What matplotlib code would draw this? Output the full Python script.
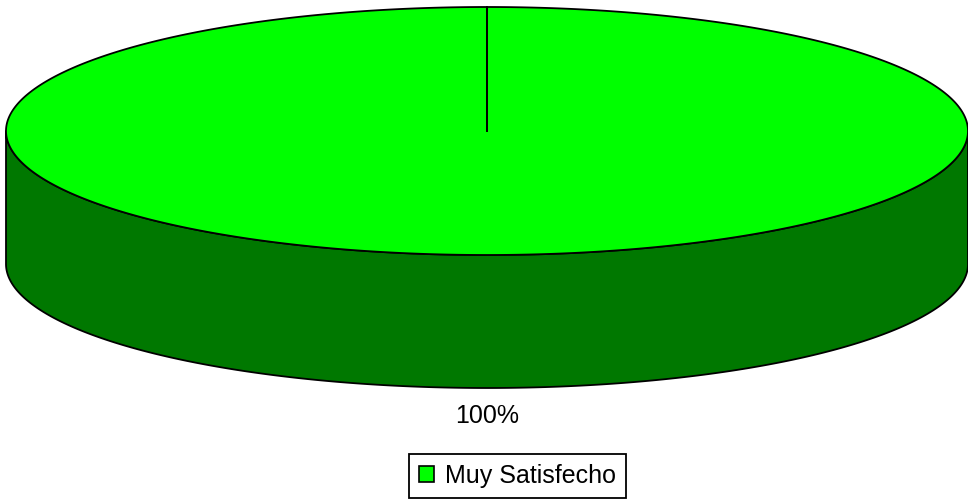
import numpy as np
import matplotlib
matplotlib.use("Agg")
import matplotlib.pyplot as plt
from matplotlib.patches import Polygon, Patch

# ---- data ----
categories = ["Muy Satisfecho"]
values = [100]
labels = ["100%"]

# ---- style / layout ----
top_colors = ["#00FF00"]
side_colors = ["#007800"]
W, H = 968, 500
cx, cy = 487, 131      # centre of top ellipse (pixels)
a, b = 481, 124        # semi axes
depth = 133            # pie thickness (pixels)

plt.rcParams["font.family"] = ["Liberation Sans", "DejaVu Sans"]
fig = plt.figure(figsize=(W / 100, H / 100), dpi=100)
ax = fig.add_axes([0, 0, 1, 1])
ax.set_xlim(0, W)
ax.set_ylim(H, 0)
ax.axis("off")

total = float(sum(values))
# Excel: first slice starts at 12 o'clock, goes clockwise
start = 90.0
lw = 1.3


def pt(theta_deg, dy=0.0):
    t = np.radians(theta_deg)
    return cx + a * np.cos(t), cy - b * np.sin(t) + dy


bounds = []
ang = start
for v in values:
    sweep = 360.0 * v / total
    bounds.append((ang, ang - sweep))
    ang -= sweep

# side walls (front half: angles between 180 and 360, i.e. sin<0)
for (t0, t1), sc in zip(bounds, side_colors):
    lo, hi = min(t0, t1), max(t0, t1)
    segs = []
    for k in range(-2, 3):
        s0, s1 = 180 + 360 * k, 360 + 360 * k
        l, h = max(lo, s0), min(hi, s1)
        if h > l:
            segs.append((l, h))
    for l, h in segs:
        th = np.linspace(l, h, 400)
        top = [pt(t) for t in th]
        bot = [pt(t, depth) for t in th[::-1]]
        ax.add_patch(Polygon(top + bot, closed=True, facecolor=sc,
                             edgecolor="black", linewidth=lw, joinstyle="round",
                             zorder=1))

# top faces
for (t0, t1), tc in zip(bounds, top_colors):
    th = np.linspace(t0, t1, 800)
    pts = [pt(t) for t in th]
    if abs(t0 - t1) < 359.999:
        pts = [(cx, cy)] + pts
    ax.add_patch(Polygon(pts, closed=True, facecolor=tc, edgecolor="black",
                         linewidth=lw, zorder=2))
    # radial boundary lines
    for t in (t0, t1):
        x, y = pt(t)
        ax.plot([cx, x], [cy, y], color="black", linewidth=lw, zorder=3)

# data labels (outside, below the slice middle)
for (t0, t1), lab in zip(bounds, labels):
    mid = (t0 + t1) / 2.0
    x, y = pt(mid, depth)
    ax.text(x, y + 35, lab, ha="center", va="baseline", fontsize=18,
            color="black", zorder=4)

# legend
handles = [Patch(facecolor=c, edgecolor="black", linewidth=1.2) for c in top_colors]
leg = ax.legend(handles, categories, loc="center",
                bbox_to_anchor=(517.5 / W, 1 - 475.5 / H),
                bbox_transform=fig.transFigure,
                fontsize=18, frameon=True, fancybox=False, framealpha=1,
                edgecolor="black", handlelength=0.62, handleheight=0.62,
                handletextpad=0.45, borderpad=0.4, borderaxespad=0)
leg.get_frame().set_linewidth(1.3)

fig.savefig("out.png", dpi=100, facecolor="white")
